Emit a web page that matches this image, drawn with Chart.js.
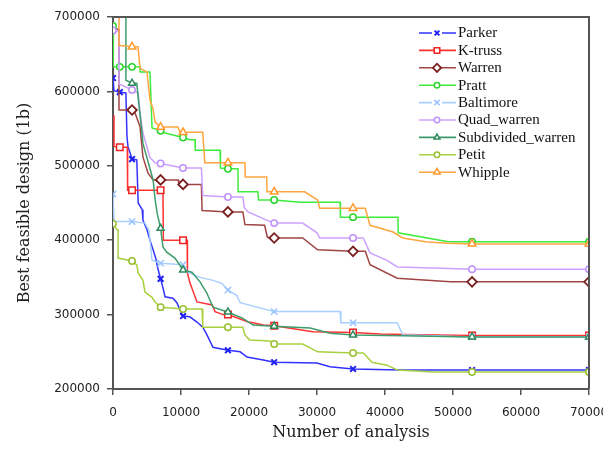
<!DOCTYPE html>
<html><head><meta charset="utf-8">
<script src="https://cdn.jsdelivr.net/npm/chart.js@4/dist/chart.umd.min.js"></script>
<style>html,body{margin:0;padding:0;background:#fff}#wrap{width:603px;height:467px}</style>
</head><body><div id="wrap"><canvas id="c" width="603" height="467"></canvas></div>
<script>
const seriesNames = ['Parker','K-truss','Warren','Pratt','Baltimore','Quad_warren','Subdivided_warren','Petit','Whipple'];
const parker = [[0,618000],[150,601000],[1000,599000],[1900,598000],[2050,540000],[2200,526000],[2800,509000],[3500,508000],[3700,450000],[4300,441000],[4400,427000],[5000,414000],[5440,400000],[5900,387000],[6300,375000],[6600,362000],[7000,348000],[7350,336000],[7650,324000],[8800,322000],[9400,316000],[9850,306000],[10300,298000],[11300,297000],[12350,290000],[13200,283000],[13800,273000],[14700,256000],[16900,252000],[18700,250000],[19700,243000],[22100,239000],[23700,236000],[30000,235000],[31900,230000],[35300,227000],[42200,225500],[52800,225500],[70000,225500]];
const kTruss = [[150,568000],[150,526000],[1000,525000],[2100,525000],[2150,467000],[2800,467000],[7000,467000],[7350,467000],[7400,400000],[10300,400000],[10900,400000],[10950,356000],[11300,343000],[12350,317000],[14600,313000],[15000,304000],[16200,300000],[16900,300000],[19900,290000],[20600,289000],[22100,286000],[23700,285000],[29400,277000],[35300,276000],[39300,274000],[45200,273000],[52800,272000],[70000,272000]];
const warren = [[100,685000],[880,683000],[880,575000],[2800,575000],[3200,572000],[3970,553000],[4400,512000],[5150,490000],[5900,481000],[7000,481000],[9600,481000],[9700,475000],[10300,475000],[13000,475000],[13100,440000],[16900,438000],[19100,438000],[19400,421000],[22300,420000],[22700,404000],[23700,403000],[27900,403000],[30100,387000],[35300,385000],[37100,385000],[37800,367000],[41800,349000],[49600,344000],[52800,344000],[70000,344000]];
const pratt = [[0,688000],[50,633000],[1000,633000],[2800,633000],[3970,633000],[4000,626000],[5440,626000],[5740,551000],[7000,547000],[7650,544000],[10300,538000],[11300,535000],[12060,535000],[12100,521000],[15740,521000],[15800,497000],[16900,496000],[18380,496000],[18400,465000],[21300,465000],[21400,454000],[23700,454000],[27500,451000],[33400,451000],[33450,431000],[35300,431000],[41900,431000],[41950,410000],[49300,398000],[52800,398000],[70000,398000]];
const baltimore = [[0,462000],[150,425000],[2800,425000],[4700,423000],[5300,413000],[5740,373000],[7000,369000],[10300,367000],[11000,357000],[12800,350000],[14700,346000],[16000,342000],[16900,333000],[18200,326000],[18700,316000],[23700,304000],[33400,304000],[33500,289000],[35300,289000],[41800,289000],[42600,273000],[52800,270000],[70000,270000]];
const quadWarren = [[0,682000],[880,680000],[880,610000],[2800,602000],[3700,598000],[3970,571000],[4400,544000],[5000,525000],[5440,511000],[6200,504000],[7000,503000],[10300,497000],[13000,497000],[13200,460000],[16900,458000],[19100,458000],[19300,444000],[19850,438000],[22600,427000],[23700,423000],[27900,423000],[30000,410000],[30400,403000],[35300,403000],[36800,403000],[37800,383000],[40300,373000],[41800,364000],[49600,362000],[52800,361000],[70000,361000]];
const subdividedWarren = [[1900,800000],[1900,615000],[2800,611000],[3500,611000],[3700,592000],[4260,544000],[4400,530000],[5900,481000],[6200,454000],[6500,436000],[7000,416000],[7350,391000],[7900,384000],[9100,376000],[10100,363000],[10300,360000],[11600,357000],[12800,344000],[13800,329000],[14700,310000],[16900,303500],[19100,295000],[20600,286000],[23700,284500],[29000,282000],[31900,275000],[35300,272600],[42600,271500],[52800,270000],[70000,270000]];
const petit = [[0,422000],[600,414000],[740,414000],[740,376000],[2800,372000],[3500,366700],[3700,356000],[4400,346500],[4700,330400],[5700,323600],[6200,317000],[7000,310000],[10300,307500],[13100,307500],[13200,283000],[16900,283000],[19100,283000],[19400,272600],[20100,266000],[23100,264500],[23700,260500],[27900,260500],[30100,250000],[35300,248400],[36800,248400],[38100,236000],[40300,232000],[41800,225500],[47100,223000],[52800,222800],[70000,222800]];
const whipple = [[880,790000],[880,662000],[2800,660000],[3680,660000],[3970,631000],[5000,626000],[5440,588000],[5880,577000],[6180,559000],[6620,555000],[7000,552000],[9560,552000],[9850,545000],[10300,545000],[13200,545000],[13500,504000],[16900,504000],[19400,504000],[19450,485000],[22600,485000],[22650,465000],[23700,465000],[28200,465000],[30100,454000],[30400,443000],[35300,443000],[37100,443000],[37800,420000],[41200,411000],[42600,403000],[46200,397600],[49300,396000],[52800,395000],[70000,395000]];
const markerX = [0,1000,2800,7000,10300,16900,23700,35300,52800,70000];
const xTickValues = [0,10000,20000,30000,40000,50000,60000,70000];
const yTickValues = [200000,300000,400000,500000,600000,700000];
const xTitle = 'Number of analysis';
const yTitle = 'Best feasible design (1b)';

const seriesData = [parker,kTruss,warren,pratt,baltimore,quadWarren,subdividedWarren,petit,whipple];
const styles = [
  {color:'#3232FF', pc:'#2020F0', point:'crossRot', r:4, bw:2},
  {color:'#FF3232', pc:'#F02020', point:'rect', r:4.6, bw:1.5},
  {color:'#A04444', pc:'#7A1E1E', point:'rectRot', r:4.8, bw:1.8},
  {color:'#3DEB3D', pc:'#2ED42E', point:'circle', r:3.2, bw:1.5},
  {color:'#A8D0FF', pc:'#99C4FF', point:'crossRot', r:4.5, bw:1.5},
  {color:'#CCA0FF', pc:'#C090FA', point:'circle', r:3.2, bw:1.5},
  {color:'#3C9C6C', pc:'#2E8A5C', point:'triangle', r:4, bw:1.5},
  {color:'#A8D040', pc:'#98C030', point:'circle', r:3.2, bw:1.5},
  {color:'#FFA640', pc:'#FF9A30', point:'triangle', r:4.4, bw:1.5}
];

const datasets = seriesData.map((d,i)=>({
  label: seriesNames[i],
  data: d.map(p=>({x:p[0], y:p[1]})),
  borderColor: styles[i].color,
  borderWidth: 1.5,
  pointStyle: styles[i].point,
  pointRadius: ctx => (ctx.raw && markerX.includes(ctx.raw.x)) ? styles[i].r : 0,
  pointHoverRadius: 0,
  pointBorderColor: styles[i].pc,
  pointBackgroundColor: '#fff',
  pointBorderWidth: styles[i].bw,
  tension: 0,
  fill: false,
  order: seriesNames.length - i
}));

function drawMark(ctx, st, x, y) {
  ctx.save();
  ctx.strokeStyle = st.pc; ctx.fillStyle = '#fff'; ctx.lineWidth = st.bw;
  if (Chart.helpers && Chart.helpers.drawPoint) {
    Chart.helpers.drawPoint(ctx, {pointStyle: st.point, rotation: 0, radius: st.r, borderWidth: st.bw}, x, y);
  } else {
    ctx.beginPath(); ctx.arc(x, y, st.r, 0, Math.PI*2); ctx.fill(); ctx.stroke();
  }
  ctx.restore();
}

const legendPlugin = {
  id: 'insideLegend',
  afterDraw(chart) {
    const ctx = chart.ctx;
    ctx.save();
    const x0 = 419, x1 = 456, xm = 437, y0 = 33, dy = 17.4;
    seriesNames.forEach((name, i) => {
      const st = styles[i];
      const y = y0 + i*dy;
      ctx.strokeStyle = st.color; ctx.lineWidth = 1.6;
      ctx.beginPath();
      if (st.point === 'crossRot') {
        ctx.moveTo(x0, y); ctx.lineTo(xm-5, y);
        ctx.moveTo(xm+5, y); ctx.lineTo(x1, y);
      } else {
        ctx.moveTo(x0, y); ctx.lineTo(x1, y);
      }
      ctx.stroke();
      drawMark(ctx, {...st, r: st.r*0.85}, xm, y);
      ctx.fillStyle = '#111';
      ctx.font = '15px "Liberation Serif"';
      ctx.textBaseline = 'middle';
      ctx.textAlign = 'left';
      ctx.fillText(name, 458, y + 0.5);
    });
    ctx.restore();
  }
};

const framePlugin = {
  id: 'frame',
  afterDatasetsDraw(chart) {
    const {ctx, chartArea: a} = chart;
    ctx.save();
    ctx.strokeStyle = '#555'; ctx.lineWidth = 2;
    ctx.beginPath();
    ctx.moveTo(a.left, a.top); ctx.lineTo(a.right, a.top); ctx.lineTo(a.right, a.bottom);
    ctx.stroke();
    ctx.restore();
  }
};

new Chart(document.getElementById('c'), {
  type: 'line',
  data: { datasets },
  options: {
    responsive: false,
    devicePixelRatio: 1,
    animation: false,
    events: [],
    layout: { padding: { top: 17, right: 14, bottom: 0, left: 0 } },
    plugins: { legend: { display: false }, tooltip: { enabled: false }, title: { display: false } },
    scales: {
      x: {
        type: 'linear', min: 0, max: 70000,
        afterBuildTicks: s => { s.ticks = xTickValues.map(v => ({value: v})); },
        afterFit: s => { s.height = 78; s.paddingLeft = 0; s.paddingRight = 0; },
        ticks: { font: { family: 'DejaVu Sans', size: 12 }, color: '#222', padding: 11, maxRotation: 0, autoSkip: false, callback: v => String(v) },
        grid: { drawOnChartArea: false, tickLength: 6, color: '#555', lineWidth: 1.5 },
        border: { color: '#555', width: 2 },
        title: { display: true, text: xTitle, font: { family: 'DejaVu Serif', size: 16 }, color: '#222', padding: { top: 0, bottom: 25 } }
      },
      y: {
        type: 'linear', min: 200000, max: 700000,
        afterBuildTicks: s => { s.ticks = yTickValues.map(v => ({value: v})); },
        afterFit: s => { s.width = 113; },
        ticks: { font: { family: 'DejaVu Sans', size: 12 }, color: '#222', padding: 7, autoSkip: false, callback: v => String(v) },
        grid: { drawOnChartArea: false, tickLength: 6, color: '#555', lineWidth: 1.5 },
        border: { color: '#555', width: 2 },
        title: { display: true, text: yTitle, font: { family: 'DejaVu Serif', size: 16 }, color: '#222', padding: { top: 15, bottom: 0 } }
      }
    }
  },
  plugins: [legendPlugin, framePlugin]
});
</script>
</body></html>
